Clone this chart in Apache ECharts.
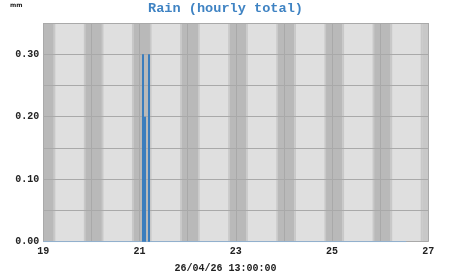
<!DOCTYPE html>
<html><head><meta charset="utf-8">
<script src="https://cdn.jsdelivr.net/npm/echarts@6/dist/echarts.min.js"></script>
<style>html,body{margin:0;padding:0;background:#fff}#c{width:451px;height:275px}</style>
</head><body><div id="c"></div><script>
// ---- data ----
const titleText = 'Rain (hourly total)';
const unitLabel = 'mm';
const timeLabel = '26/04/26 13:00:00';
const xTicks = [19, 21, 23, 25, 27];
const yTicks = [0.00, 0.10, 0.20, 0.30];
const rainDay = [21, 21, 21];
const rainHour = [2, 3, 5];
const rainValues = [0.30, 0.20, 0.30];
const startDay = 19, endDay = 27;
const nowDay = 26, nowHour = 13;
const nightDays = [18, 19, 20, 21, 22, 23, 24, 25, 26];
const duskStartHour = 20.2, nightStartHour = 21.0, nightEndHour = 5.2, dawnEndHour = 6.0;

// ---- build bands (0 light, 1 twilight, 2 night) ----
const bands = [[startDay, endDay, 0]];
nightDays.forEach(d => {
  const pieces = [
    [d + duskStartHour / 24, d + nightStartHour / 24, 1],
    [d + nightStartHour / 24, d + 1 + nightEndHour / 24, 2],
    [d + 1 + nightEndHour / 24, d + 1 + dawnEndHour / 24, 1]
  ];
  pieces.forEach(p => {
    let s = Math.max(p[0], startDay), e = Math.min(p[1], endDay);
    if (e <= s) return;
    let lvl = p[2];
    if (p[1] > endDay && p[0] < endDay) lvl = 1;
    bands.push([s, e, lvl]);
  });
});
const shadeColors = ['#dfdfdf', '#c8c8c8', '#b9b9b9'];
const mono = '"Liberation Mono", "DejaVu Sans Mono", monospace';

const chart = echarts.init(document.getElementById('c'), null, {renderer: 'canvas'});
chart.setOption({
  animation: false,
  title: {
    text: titleText, left: 'center', top: -3,
    textStyle: {fontFamily: mono, fontWeight: 'bold', fontSize: 13.6, color: '#3f83c3'}
  },
  grid: {left: 43.3, right: 22.7, top: 23, bottom: 33.3, show: false},
  xAxis: {
    type: 'value', min: startDay, max: endDay, interval: 1,
    axisLine: {show: false}, axisTick: {show: false},
    splitLine: {show: true, lineStyle: {color: '#a9a9a9', width: 1}},
    axisLabel: {
      formatter: v => xTicks.includes(Math.round(v)) && Math.abs(v - Math.round(v)) < 1e-6 ? String(Math.round(v)) : '',
      fontFamily: mono, fontWeight: 'bold', fontSize: 10, color: '#222', margin: 5
    }
  },
  yAxis: {
    type: 'value', min: 0, max: 0.35, interval: 0.05,
    axisLine: {show: false}, axisTick: {show: false},
    splitLine: {show: true, lineStyle: {color: '#a9a9a9', width: 1}},
    axisLabel: {
      formatter: v => yTicks.some(t => Math.abs(t - v) < 1e-6) ? v.toFixed(2) : '',
      fontFamily: mono, fontWeight: 'bold', fontSize: 10, color: '#222', margin: 4
    }
  },
  graphic: [
    {type: 'text', left: 10, top: 2, style: {text: unitLabel, font: 'bold 6px "DejaVu Sans"', fill: '#222'}},
    {type: 'text', left: 'center', top: 263, style: {text: timeLabel, font: 'bold 10px ' + mono, fill: '#222'}}
  ],
  series: [
    {
      type: 'custom', z: -1, silent: true,
      data: bands,
      encode: {x: [0, 1]},
      renderItem: (params, api) => {
        const p1 = api.coord([api.value(0), 0.35]);
        const p2 = api.coord([api.value(1), 0]);
        return {
          type: 'rect',
          shape: {x: p1[0], y: p1[1], width: p2[0] - p1[0], height: p2[1] - p1[1]},
          style: {fill: shadeColors[api.value(2)]}
        };
      }
    },
    {
      type: 'line', symbol: 'none', silent: true, z: 3,
      data: [[startDay, 0], [nowDay + nowHour / 24, 0]],
      lineStyle: {color: '#8db2d6', width: 1}
    },
    {
      type: 'custom', z: 4,
      data: rainDay.map((d, i) => [d + rainHour[i] / 24, rainValues[i]]),
      encode: {x: 0, y: 1},
      renderItem: (params, api) => {
        const x = api.value(0);
        const pl = api.coord([x - 0.5 / 24, api.value(1)]);
        const pr = api.coord([x + 0.5 / 24, 0]);
        const left = Math.floor(pl[0]);
        const w = Math.max(1, Math.round(pr[0] - pl[0]));
        return {
          type: 'rect',
          shape: {x: left, y: pl[1], width: w, height: pr[1] - pl[1]},
          style: {fill: '#3a7dbd'}
        };
      }
    }
  ]
});
</script></body></html>
